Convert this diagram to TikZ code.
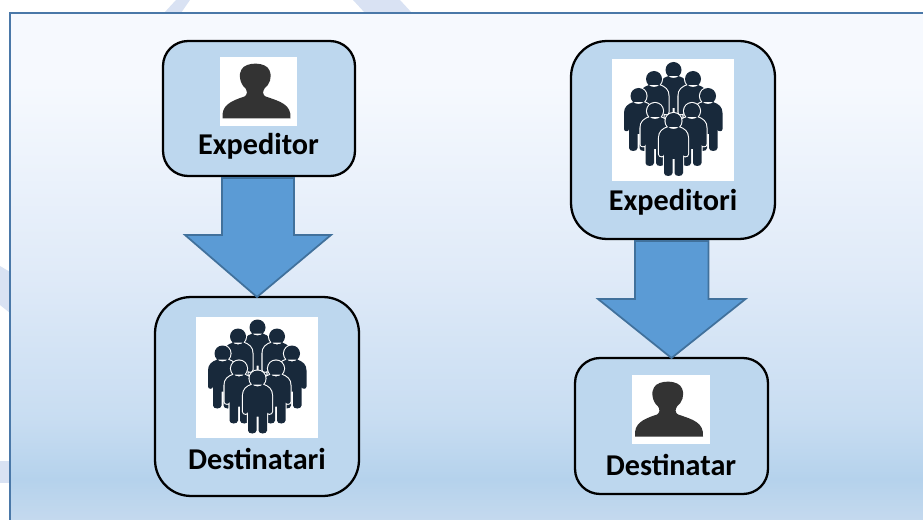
\documentclass[tikz,border=0pt]{standalone}
\usepackage{fontspec}
\setmainfont{Carlito}
\definecolor{panelA}{HTML}{F6F9FE}
\definecolor{panelB}{HTML}{DFEAF8}
\definecolor{panelC}{HTML}{B5D2EC}
\definecolor{panelD}{HTML}{C4D9EE}
\definecolor{frameblue}{HTML}{4A78A8}
\definecolor{boxblue}{HTML}{BDD7EE}
\definecolor{arrowfill}{HTML}{5B9BD5}
\definecolor{arrowline}{HTML}{41719C}
\definecolor{stripe}{HTML}{D9E2F3}
\definecolor{crowddark}{HTML}{18293B}
\definecolor{persondark}{HTML}{333333}
% the bounding box of a shaded path covers 25bp to 75bp of the shading
\pgfdeclareverticalshading{panelshade}{100bp}{
  color(0bp)=(panelD); color(25bp)=(panelD); color(29bp)=(panelC); color(35bp)=(panelB!45!panelC); color(49bp)=(panelB); color(68bp)=(panelA); color(100bp)=(panelA)}
\newcommand{\crowdshape}{(0,0) circle (8) (-5,6) .. controls (-11,8) and (-14.5,11) .. (-14.5,17)
      -- (-14.5,33) .. controls (-14.5,36) and (-9.5,36) .. (-9.5,33) -- (-9.5,52) .. controls (-9.5,56) and (-1,56) .. (-1,52)
      -- (-1,38) -- (1,38) -- (1,52) .. controls (1,56) and (9.5,56) .. (9.5,52) -- (9.5,33)
      .. controls (9.5,36) and (14.5,36) .. (14.5,33) -- (14.5,17) .. controls (14.5,11) and (11,8) .. (5,6) -- cycle}
\tikzset{
  roundbox/.style={draw=black, fill=boxblue, line width=1.3pt, inner sep=0pt, outer sep=0pt},
  photobox/.style={fill=white, inner sep=0pt},
  boxlabel/.style={font=\bfseries\fontsize{17.2}{20}\selectfont, text=black, inner sep=0pt},
  blockarrow/.style={draw=arrowline, fill=arrowfill, line width=1pt, line join=miter},
  crowdman/.pic={
    \draw[white, line width=1.2pt] \crowdshape;
    \fill[crowddark] \crowdshape;
  },
  crowdicon/.pic={
    \pic at (0.5,-50) {crowdman};
    \pic at (-19,-41) {crowdman};
    \pic at (20,-41) {crowdman};
    \pic at (-34.5,-24) {crowdman};
    \pic at (35,-24) {crowdman};
    \pic at (-18,-9) {crowdman};
    \pic at (19,-9) {crowdman};
    \pic at (0.5,1) {crowdman};
  },
  personicon/.pic={
    \fill[persondark] (-36,27) .. controls (-37,14) and (-29,10) .. (-14,5) .. controls (-11,3) and (-11,0) .. (-13,-3)
      .. controls (-19,-8) and (-20,-18) .. (-17,-22) .. controls (-13,-30) and (8,-30) .. (11,-21)
      .. controls (14,-14) and (11,-7) .. (6,-3) .. controls (4,0) and (4,3) .. (7,5)
      .. controls (22,10) and (33,13) .. (32,27) -- cycle;
  }
}
\begin{document}
\begin{tikzpicture}[x=0.02cm, y=-0.02cm]
    \useasboundingbox (0,0) rectangle (923,520);
    % stripes behind the panel
    \fill[stripe] (164,13) -- (176,0) -- (190,0) -- (181,13) -- cycle;
    \fill[stripe] (353,0) -- (400,0) -- (412,13) -- (365,13) -- cycle;
    \fill[stripe] (0,266) -- (10,272) -- (10,313) -- (0,305) -- cycle;
    \fill[stripe] (0,461) -- (10,461) -- (10,483) -- (0,483) -- cycle;
    % panel
    \shade[shading=panelshade] (10,13) rectangle (923,520);
    \draw[frameblue, line width=1.2pt] (923,13) -- (10,13) -- (10,520);

    \node[roundbox, rounded corners=0.5cm, minimum width=3.84cm, minimum height=2.7cm] (expeditor) at (259,108.5) {};
    \node[roundbox, rounded corners=0.72cm, minimum width=4.08cm, minimum height=3.98cm] (destinatari) at (257,396.5) {};
    \node[roundbox, rounded corners=0.72cm, minimum width=4.08cm, minimum height=3.96cm] (expeditori) at (673,140) {};
    \node[roundbox, rounded corners=0.5cm, minimum width=3.86cm, minimum height=2.72cm] (destinatar) at (671.5,426) {};

    \draw[blockarrow] (expeditor.south) ++(-37,2) -- ++(0,57) -- ++(-37,0) -- (destinatari.north)
        -- ++(74,-62) -- ++(-37,0) -- ++(0,-57) -- cycle;
    \draw[blockarrow] (expeditori.south) ++(-38,2) -- ++(0,58) -- ++(-37,0) -- (destinatar.north)
        -- ++(74,-59) -- ++(-37,0) -- ++(0,-58) -- cycle;

    \node[photobox, minimum width=1.54cm, minimum height=1.38cm] (photoA) at (258.5,91.5) {};
    \node[photobox, minimum width=2.44cm, minimum height=2.42cm] (photoB) at (257,377.5) {};
    \node[photobox, minimum width=2.44cm, minimum height=2.44cm] (photoC) at (673,120) {};
    \node[photobox, minimum width=1.56cm, minimum height=1.38cm] (photoD) at (671,409.5) {};

    \pic at (photoA) {personicon};
    \pic at (photoD) {personicon};
    \pic at (photoB) {crowdicon};
    \pic at (photoC) {crowdicon};

    \node[boxlabel] (labelA) at (258.5,146) {Expeditor};
    \node[boxlabel] (labelB) at (257,458.5) {Destinatari};
    \node[boxlabel] (labelC) at (673,202) {Expeditori};
    \node[boxlabel] (labelD) at (671,464.5) {Destinatar};
\end{tikzpicture}
\end{document}
